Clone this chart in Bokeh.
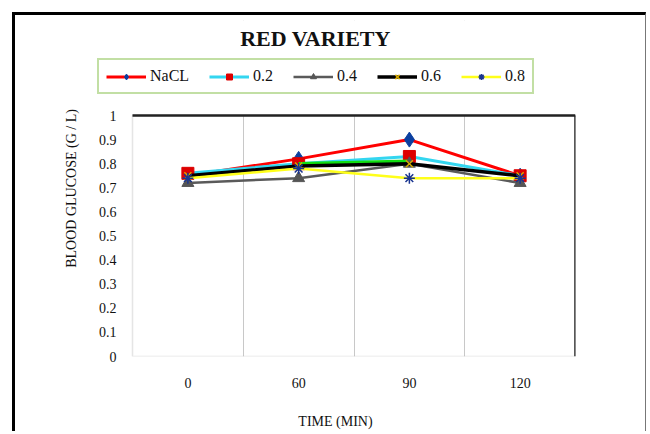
import numpy as np
from bokeh.plotting import figure
from bokeh.models import FixedTicker, Legend, Label, BoxAnnotation
from bokeh.embed import file_html
from bokeh.resources import INLINE

# Blood glucose (g/L) over time, red variety
times = ["0", "60", "90", "120"]
nacl = [0.75, 0.82, 0.90, 0.75]
c02 = [0.76, 0.80, 0.83, 0.75]
c04 = [0.72, 0.74, 0.80, 0.72]
c06 = [0.75, 0.79, 0.80, 0.75]
c08 = [0.74, 0.78, 0.74, 0.74]
extra = [np.nan, 0.80, 0.81, np.nan]
y_ticks = [0, 0.1, 0.2, 0.3, 0.4, 0.5, 0.6, 0.7, 0.8, 0.9, 1]

FONT = "Liberation Serif"
n = len(times)
ymax = y_ticks[-1]
xs = [i + 0.5 for i in range(n)]

# canvas layout (pixels): the frame also holds the title and legend strip,
# the plot area itself starts AREA_DX px right of the frame's left edge
W, H = 634, 419
FL, FR, FT, FB = 80, 560, 5, 341
AREA_DX = 37
AREA_H = 241
px_per_x = (FR - FL - AREA_DX) / n
x_start = -AREA_DX / px_per_x
y_end = ymax * (FB - FT) / AREA_H

p = figure(width=W, height=H, output_backend="svg", toolbar_location=None,
           x_range=(x_start, n), y_range=(0, y_end),
           min_border_left=FL, min_border_right=W - FR,
           min_border_top=FT, min_border_bottom=H - FB)
p.title_location = None
p.background_fill_color = "white"
p.border_fill_color = "white"
p.outline_line_color = None
# chart border around the whole canvas
p.styles = {"margin-left": "12px", "margin-top": "12px",
            "border-left": "3px solid #000000", "border-top": "3px solid #000000",
            "border-right": "1px solid #777777"}

# axes
p.xaxis.ticker = FixedTicker(ticks=xs)
p.xaxis.major_label_overrides = {x: t for x, t in zip(xs, times)}
p.yaxis.ticker = FixedTicker(ticks=y_ticks)
p.yaxis.major_label_overrides = {v: f"{v:g}" for v in y_ticks}
for ax in (p.xaxis[0], p.yaxis[0]):
    ax.axis_line_color = None
    ax.major_tick_line_color = None
    ax.minor_tick_line_color = None
    ax.major_tick_out = 0
    ax.major_label_text_font = FONT
    ax.major_label_text_font_size = "14px"
    ax.major_label_text_color = "#111111"
    ax.axis_label_text_font = FONT
    ax.axis_label_text_font_size = "14px"
    ax.axis_label_text_font_style = "normal"
    ax.axis_label_text_color = "#111111"
p.xaxis.major_label_standoff = 21
p.xaxis.axis_label_standoff = 23
# y labels sit in the strip between the frame edge and the plot area
p.yaxis.major_label_standoff = 16 - AREA_DX
p.yaxis.axis_label_standoff = 17
p.xaxis.axis_label = "TIME (MIN)"
p.yaxis.axis_label = "BLOOD GLUCOSE (G / L)"

# grid: vertical separators between time points only
p.ygrid.grid_line_color = None
p.xgrid.ticker = FixedTicker(ticks=list(range(1, n)))
p.xgrid.grid_line_color = "#c8c8c8"
p.xgrid.grid_line_width = 1

# keep the strip above the plot area clean, then outline the plot area
p.add_layout(BoxAnnotation(bottom=ymax, fill_color="white", fill_alpha=1,
                           line_color=None, level="underlay"))
p.add_layout(BoxAnnotation(left=0, right=n, bottom=0, top=ymax, fill_alpha=0,
                           line_color="#a8a8a8", line_width=1.5, level="underlay"))
# darker top and right edges
p.segment(x0=[0, n], y0=[ymax, 0], x1=[n, n], y1=[ymax, ymax],
          line_color="#222222", line_width=2.5)

items = []

r1 = p.line(xs, nacl, line_color="#ff0000", line_width=3)
m1 = p.scatter(xs, nacl, marker="diamond", size=15, fill_color="#0b3fa0", line_color="#0b3fa0")
items.append(("NaCL", [r1, m1]))

r2 = p.line(xs, c02, line_color="#33d6f0", line_width=3)
m2 = p.scatter(xs, c02, marker="square", size=12, fill_color="#dd0000", line_color="#dd0000")
items.append(("0.2", [r2, m2]))

p.line(xs, extra, line_color="#11dd11", line_width=3.5)

r3 = p.line(xs, c04, line_color="#5a5a5a", line_width=2.5)
m3 = p.scatter(xs, c04, marker="triangle", size=12, fill_color="#555555", line_color="#555555")
items.append(("0.4", [r3, m3]))

r4 = p.line(xs, c06, line_color="#000000", line_width=3.5)
m4 = p.scatter(xs, c06, marker="x", size=10, line_color="#d4a800", line_width=1.5)
items.append(("0.6", [r4, m4]))

r5 = p.line(xs, c08, line_color="#ffff1a", line_width=2.5)
m5 = p.scatter(xs, c08, marker="asterisk", size=11, line_color="#1a3590", line_width=1.5)
items.append(("0.8", [r5, m5]))

legend = Legend(items=items, orientation="horizontal", location=(2, 262),
                label_text_font=FONT, label_text_font_size="16px",
                label_text_color="#111111",
                glyph_width=40, glyph_height=15, label_standoff=4, spacing=20,
                padding=7, margin=0,
                border_line_color="#86c049", border_line_width=2,
                background_fill_color="white", background_fill_alpha=1)
p.add_layout(legend, "center")

p.add_layout(Label(x=220, y=318, x_units="screen", y_units="screen", text="RED VARIETY",
                   text_font=FONT, text_font_size="22px", text_font_style="bold",
                   text_align="center", text_baseline="middle", text_color="#111111"))

open("out.html", "w").write(file_html(p, INLINE))
